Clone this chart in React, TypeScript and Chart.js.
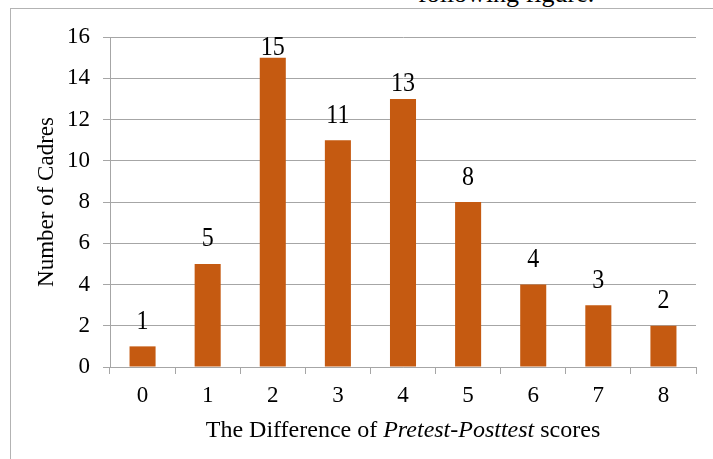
import React, { useEffect, useRef } from "react";
import { Chart, registerables } from "chart.js";

Chart.register(...registerables);

const categories = ["0", "1", "2", "3", "4", "5", "6", "7", "8"];
const cadreCounts = [1, 5, 15, 11, 13, 8, 4, 3, 2];
const yMin = 0;
const yMax = 16;
const yStep = 2;
const yTitle = "Number of Cadres";
const xTitleParts = [
  { text: "The Difference of ", italic: false },
  { text: "Pretest-Posttest", italic: true },
  { text: " scores", italic: false },
];
const captionAbove = "following figure.";

const SERIF = '"Liberation Serif", "Times New Roman", Times, serif';
const BAR_COLOR = "#C55A11";
const GRID_COLOR = "#a6a6a6";

const titlesPlugin = {
  id: "customTitles",
  afterDraw(chart: any) {
    const { ctx, chartArea } = chart;
    ctx.save();
    ctx.fillStyle = "#000";
    ctx.textBaseline = "alphabetic";
    // x title with italic segment
    const size = 24;
    let total = 0;
    const widths = xTitleParts.map((p) => {
      ctx.font = `${p.italic ? "italic " : ""}${size}px ${SERIF}`;
      const w = ctx.measureText(p.text).width;
      total += w;
      return w;
    });
    let x = (chartArea.left + chartArea.right) / 2 - total / 2;
    const baseY = 437;
    xTitleParts.forEach((p, i) => {
      ctx.font = `${p.italic ? "italic " : ""}${size}px ${SERIF}`;
      ctx.textAlign = "left";
      ctx.fillText(p.text, x, baseY);
      x += widths[i];
    });
    // y title rotated
    ctx.save();
    ctx.translate(53, (chartArea.top + chartArea.bottom) / 2);
    ctx.rotate(-Math.PI / 2);
    ctx.font = `23px ${SERIF}`;
    ctx.textAlign = "center";
    ctx.fillText(yTitle, 0, 0);
    ctx.restore();
    ctx.restore();
  },
};

const dataLabelPlugin = {
  id: "barValueLabels",
  afterDatasetsDraw(chart: any, _args: any, opts: any) {
    const { ctx, chartArea } = chart;
    const meta = chart.getDatasetMeta(0);
    const values = chart.data.datasets[0].data;
    ctx.save();
    ctx.font = `24px ${SERIF}`;
    ctx.fillStyle = "#000";
    ctx.textAlign = "center";
    ctx.textBaseline = "alphabetic";
    meta.data.forEach((bar: any, i: number) => {
      const gap = opts.gaps && opts.gaps[i] != null ? opts.gaps[i] : 17.5;
      const y = Math.max(bar.y - gap, chartArea.top + 18.3);
      ctx.save();
      ctx.translate(bar.x, y);
      ctx.scale(1, 1.1);
      ctx.fillText(String(values[i]), 0, 0);
      ctx.restore();
    });
    ctx.restore();
  },
};

export default function App() {
  const ref = useRef<HTMLCanvasElement | null>(null);

  useEffect(() => {
    if (!ref.current) return;
    const chart = new Chart(ref.current, {
      type: "bar",
      data: {
        labels: categories,
        datasets: [
          {
            data: cadreCounts,
            backgroundColor: BAR_COLOR,
            borderWidth: 0,
            barPercentage: 0.4,
            categoryPercentage: 1,
          },
        ],
      },
      plugins: [titlesPlugin, dataLabelPlugin],
      options: {
        responsive: false,
        animation: false,
        layout: { padding: { top: 37, right: 17, left: 0, bottom: 0 } },
        plugins: {
          legend: { display: false },
          tooltip: { enabled: false },
          barValueLabels: { gaps: { 4: 7.6 } },
        } as any,
        scales: {
          x: {
            grid: {
              display: true,
              drawOnChartArea: false,
              drawTicks: true,
              tickLength: 7,
              color: GRID_COLOR,
              offset: true,
            },
            border: { display: true, color: GRID_COLOR, width: 1 },
            ticks: {
              color: "#000",
              font: { family: SERIF, size: 23 },
              padding: 8,
              maxRotation: 0,
            },
            afterFit: (s: any) => {
              s.height = 92;
            },
          },
          y: {
            min: yMin,
            max: yMax,
            ticks: {
              stepSize: yStep,
              color: "#000",
              font: { family: SERIF, size: 23 },
              padding: 13,
            },
            grid: {
              color: GRID_COLOR,
              lineWidth: 1,
              drawTicks: true,
              tickLength: 7,
            },
            border: { display: true, color: GRID_COLOR, width: 1 },
            afterFit: (s: any) => {
              s.width = 110;
            },
          },
        },
      },
    });
    return () => chart.destroy();
  }, []);

  return (
    <div
      style={{
        position: "fixed",
        left: 0,
        top: 0,
        width: 713,
        height: 459,
        overflow: "hidden",
        background: "#fff",
      }}
    >
      <div
        style={{
          position: "absolute",
          left: 418,
          top: -19,
          font: `26px ${SERIF}`,
          lineHeight: "26px",
          whiteSpace: "nowrap",
          color: "#000",
        }}
      >
        {captionAbove}
      </div>
      <div
        style={{
          position: "absolute",
          left: 10,
          top: 8,
          width: 900,
          height: 700,
          borderTop: "1px solid #b3b3b3",
          borderLeft: "1px solid #b3b3b3",
        }}
      />
      <canvas
        ref={ref}
        width={713}
        height={459}
        style={{ position: "absolute", left: 0, top: 0 }}
      />
    </div>
  );
}
